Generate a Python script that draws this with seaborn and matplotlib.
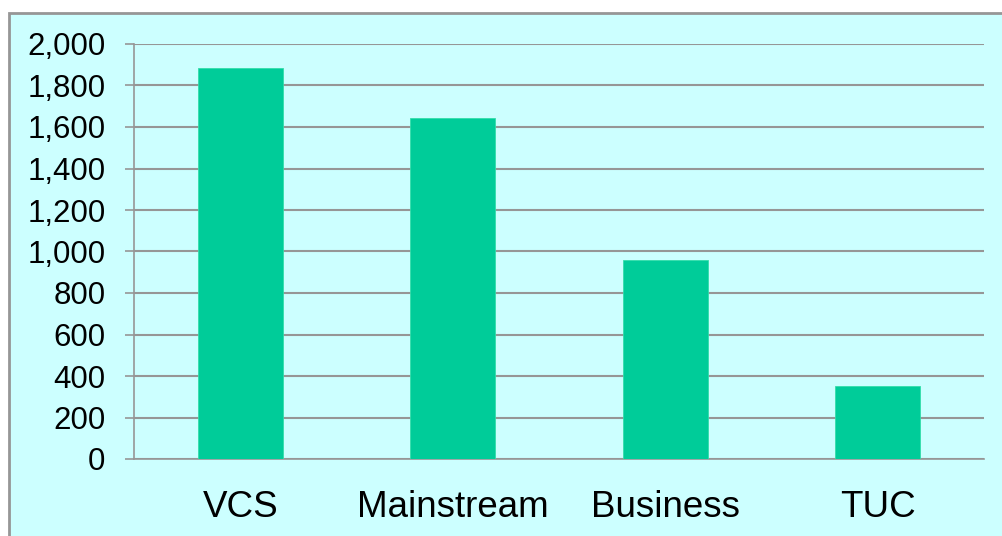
import matplotlib
matplotlib.use("Agg")
import matplotlib.pyplot as plt
import seaborn as sns
import pandas as pd
from matplotlib.patches import Rectangle

# data
categories = ['VCS', 'Mainstream', 'Business', 'TUC']
values = [1885, 1643, 957, 350]
yticks = list(range(0, 2001, 200))

sns.set_style("white")
plt.rcParams['font.family'] = ['Liberation Sans', 'DejaVu Sans']

bg = '#CCFFFF'
grey = '#969696'

W, H = 1003, 536
fig = plt.figure(figsize=(W / 100, H / 100), dpi=100)
fig.patch.set_facecolor('white')

# outer chart frame (runs off the right and bottom edges)
fig.patches.append(Rectangle((9 / W, -0.05), 1.1, 1.05 - 13 / H, transform=fig.transFigure,
                             facecolor=bg, edgecolor=grey, linewidth=2, zorder=-5))

ax = fig.add_axes([134 / W, (H - 459) / H, (984 - 134) / W, (459 - 44) / H])
ax.set_facecolor(bg)

df = pd.DataFrame({'cat': categories, 'val': values})
sns.barplot(data=df, x='cat', y='val', color='#00CC99', width=0.4, saturation=1,
            edgecolor='#33DDAA', linewidth=0.6, ax=ax, zorder=3)

ax.set_xlim(-0.5, len(categories) - 0.5)
ax.set_ylim(0, 2000)
ax.set_yticks(yticks)
ax.set_yticklabels([f'{v:,}' for v in yticks], fontsize=22.5, color='black')
ax.yaxis.grid(True, color=grey, linewidth=1.5, zorder=0)
ax.set_axisbelow(True)

ax.set_xticks(range(len(categories)))
ax.set_xticklabels(categories, fontsize=26.5, color='black')
ax.set_xticks([i - 0.5 for i in range(len(categories) + 1)], minor=True)
ax.tick_params(axis='x', which='major', length=0, pad=22)
ax.tick_params(axis='x', which='minor', length=8, width=1.2, color=grey, direction='out')
ax.tick_params(axis='y', length=6.5, width=1.2, color=grey, direction='out', pad=14, left=True)

ax.set_xlabel('')
ax.set_ylabel('')
for s in ['top', 'right']:
    ax.spines[s].set_visible(False)
for s in ['left', 'bottom']:
    ax.spines[s].set_color(grey)
    ax.spines[s].set_linewidth(1.2)

fig.savefig('out.png', dpi=100, facecolor=fig.get_facecolor())
